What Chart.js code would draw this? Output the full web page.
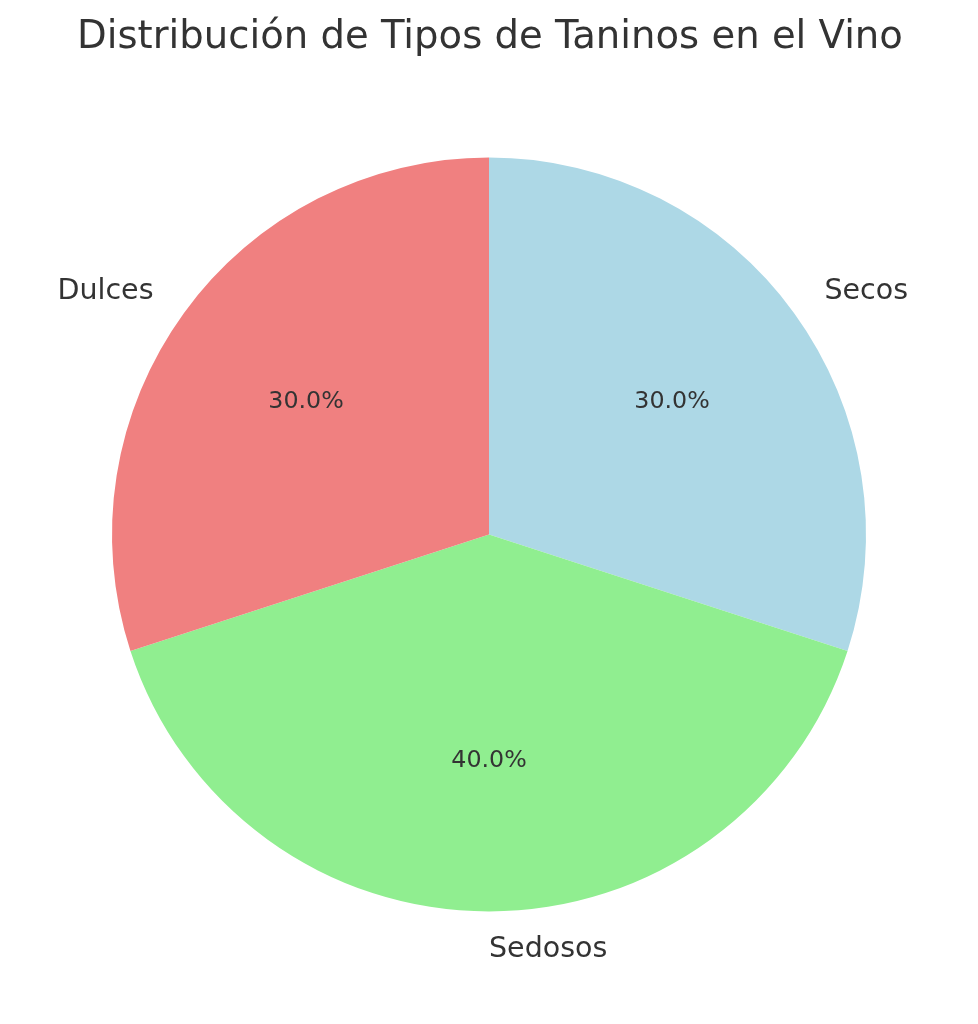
<!DOCTYPE html>
<html>
<head>
<meta charset="utf-8">
<script src="https://cdn.jsdelivr.net/npm/chart.js@4"></script>
<style>
html,body{margin:0;padding:0;background:#fff;}
canvas{display:block;}
</style>
</head>
<body>
<canvas id="c" width="978" height="1024"></canvas>
<script>
const chartTitle = 'Distribución de Tipos de Taninos en el Vino';
const categories = ['Secos', 'Sedosos', 'Dulces'];
const shares = [30, 40, 30];
const sliceColors = ['#ADD8E6', '#90EE90', '#F08080'];

const FONT = '"DejaVu Sans", sans-serif';
const TEXT = '#333333';

const labelPlugin = {
  id: 'pieLabels',
  afterDatasetsDraw(chart) {
    const ctx = chart.ctx;
    const meta = chart.getDatasetMeta(0);
    const total = shares.reduce((a, b) => a + b, 0);
    ctx.save();
    ctx.fillStyle = TEXT;
    ctx.textBaseline = 'alphabetic';
    meta.data.forEach((arc, i) => {
      const p = arc.getProps(['x', 'y', 'startAngle', 'endAngle', 'outerRadius'], true);
      const mid = (p.startAngle + p.endAngle) / 2;
      const c = Math.cos(mid), s = Math.sin(mid);
      // category label at 1.1 r
      let fs = 28.5;
      ctx.font = fs + 'px ' + FONT;
      ctx.textAlign = c >= -1e-9 ? 'left' : 'right';
      ctx.fillText(categories[i], p.x + c * 1.1 * p.outerRadius, p.y + s * 1.1 * p.outerRadius + 0.28 * fs);
      // percentage at 0.6 r
      fs = 23.75;
      ctx.font = fs + 'px ' + FONT;
      ctx.textAlign = 'center';
      const pct = (shares[i] / total * 100).toFixed(1) + '%';
      ctx.fillText(pct, p.x + c * 0.6 * p.outerRadius, p.y + s * 0.6 * p.outerRadius + 0.28 * fs);
    });
    // title
    ctx.font = '38.6px ' + FONT;
    ctx.textAlign = 'center';
    ctx.fillText(chartTitle, chart.width / 2 + 1, 48);
    ctx.restore();
  }
};

new Chart(document.getElementById('c'), {
  type: 'pie',
  data: {
    labels: categories,
    datasets: [{
      data: shares,
      backgroundColor: sliceColors,
      borderWidth: 0,
      hoverOffset: 0
    }]
  },
  options: {
    responsive: false,
    animation: false,
    devicePixelRatio: 1,
    rotation: 0,
    layout: { padding: { left: 112, right: 112, top: 157.5, bottom: 112.5 } },
    plugins: {
      legend: { display: false },
      tooltip: { enabled: false },
      title: { display: false }
    },
    events: []
  },
  plugins: [labelPlugin]
});
</script>
</body>
</html>
